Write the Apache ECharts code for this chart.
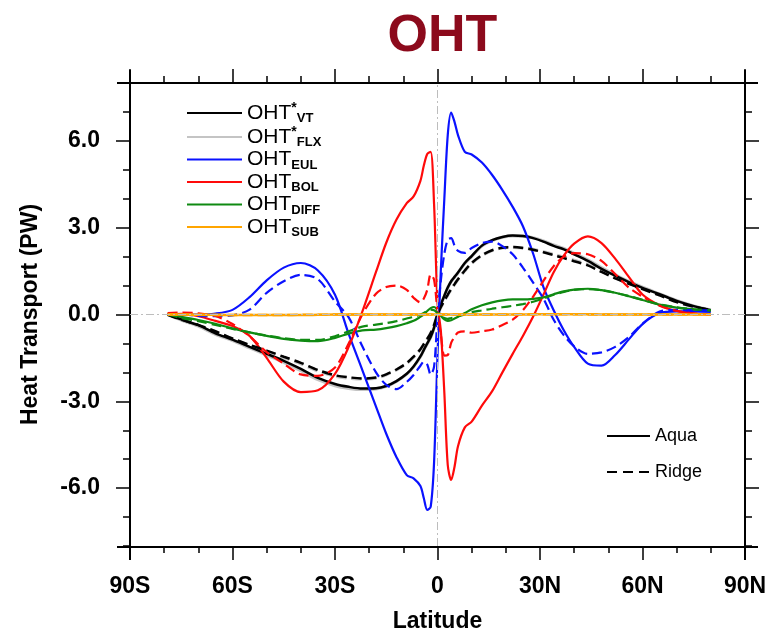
<!DOCTYPE html>
<html>
<head>
<meta charset="utf-8">
<title>OHT</title>
<script src="https://cdn.jsdelivr.net/npm/echarts@6/dist/echarts.min.js"></script>
<style>
  html, body { margin: 0; padding: 0; background: #fff; }
  #chart { width: 770px; height: 638px; }
</style>
</head>
<body>
<div id="chart"></div>
<script>
// latitude grid the curves were read at
const lat = [-79, -75, -70, -65, -60, -55, -50, -45, -40, -35,
  -30, -26, -22, -18, -15, -12, -9, -7, -5, -4,
  -3, -2, -1, 0, 1, 2, 3, 4, 5, 6,
  8, 10, 13, 16, 19, 22, 25, 28, 31, 34,
  37, 40, 44, 48, 52, 56, 60, 65, 70, 75, 80]

// Aqua (solid) runs
const vtAqua = [0, -0.17, -0.37, -0.65, -0.87, -1.12, -1.36, -1.60, -1.88, -2.19,
  -2.40, -2.50, -2.56, -2.55, -2.47, -2.30, -2.05, -1.80, -1.45, -1.22,
  -1.00, -0.78, -0.45, 0, 0.35, 0.65, 0.93, 1.15, 1.30, 1.45,
  1.78, 2.02, 2.38, 2.57, 2.68, 2.73, 2.71, 2.64, 2.52, 2.37,
  2.25, 2.08, 1.85, 1.58, 1.34, 1.12, 0.92, 0.70, 0.47, 0.29, 0.15]
const flxAqua = [0, -0.19, -0.40, -0.68, -0.90, -1.15, -1.40, -1.65, -1.94, -2.25,
  -2.46, -2.55, -2.59, -2.57, -2.48, -2.31, -2.06, -1.81, -1.46, -1.23,
  -1.01, -0.79, -0.46, 0, 0.34, 0.64, 0.92, 1.14, 1.29, 1.44,
  1.77, 2.01, 2.37, 2.56, 2.67, 2.72, 2.71, 2.65, 2.54, 2.40,
  2.28, 2.11, 1.89, 1.62, 1.37, 1.14, 0.94, 0.71, 0.48, 0.29, 0.15]
const eulAqua = [0, 0, 0, 0.03, 0.16, 0.60, 1.18, 1.62, 1.78, 1.52,
  0.68, -0.67, -1.92, -3.18, -4.12, -4.93, -5.55, -5.66, -5.93, -6.35,
  -6.75, -6.65, -5.10, -1.40, 1.60, 4.00, 6.20, 6.98, 6.65, 6.20,
  5.62, 5.53, 5.25, 4.82, 4.30, 3.72, 3.05, 2.10, 0.95, 0.15,
  -0.55, -1.12, -1.70, -1.77, -1.40, -0.86, -0.33, 0.05, 0.11, 0.11, 0.09]
const bolAqua = [0, 0.02, -0.06, -0.22, -0.40, -0.74, -1.50, -2.32, -2.68, -2.62,
  -2.05, -1.12, 0.10, 1.47, 2.48, 3.28, 3.85, 4.08, 4.62, 5.15,
  5.55, 5.62, 3.80, 0.40, -0.60, -2.70, -5.20, -5.72, -5.25, -4.55,
  -3.90, -3.70, -3.15, -2.65, -2.00, -1.36, -0.74, -0.07, 0.68, 1.46,
  2.04, 2.45, 2.70, 2.47, 1.93, 1.30, 0.69, 0.32, 0.12, 0.03, -0.01]
const diffAqua = [0, -0.08, -0.19, -0.32, -0.48, -0.62, -0.74, -0.84, -0.90, -0.92,
  -0.81, -0.66, -0.55, -0.52, -0.47, -0.40, -0.30, -0.22, -0.08, 0.00,
  0.12, 0.22, 0.26, 0.15, -0.05, -0.17, -0.22, -0.20, -0.14, -0.08,
  0.05, 0.18, 0.32, 0.42, 0.49, 0.52, 0.52, 0.54, 0.59, 0.70,
  0.80, 0.86, 0.89, 0.84, 0.75, 0.63, 0.50, 0.34, 0.24, 0.18, 0.14]
const subAqua = [0, 0, -0.01, -0.01, -0.02, -0.02, -0.02, -0.02, -0.02, -0.01,
  0, 0, 0, 0, 0, 0, 0, 0, 0, 0,
  0, 0, 0, 0, 0, 0, 0, 0, 0, 0,
  0, 0, 0, 0, 0, 0, 0, 0, 0.01, 0.01,
  0.01, 0.01, 0.01, 0, 0, 0, 0, 0, 0, 0, 0]

// Ridge (dashed) runs
const vtRidge = [0, -0.18, -0.36, -0.58, -0.83, -1.05, -1.25, -1.46, -1.67, -1.92,
  -2.10, -2.17, -2.21, -2.18, -2.07, -1.90, -1.68, -1.46, -1.20, -1.02,
  -0.84, -0.64, -0.36, 0, 0.26, 0.48, 0.68, 0.88, 1.05, 1.22,
  1.52, 1.78, 2.05, 2.22, 2.31, 2.33, 2.30, 2.24, 2.15, 2.05,
  1.95, 1.84, 1.70, 1.47, 1.25, 1.06, 0.88, 0.66, 0.43, 0.27, 0.15]
const flxRidge = [0, -0.19, -0.38, -0.60, -0.85, -1.07, -1.28, -1.49, -1.70, -1.95,
  -2.13, -2.20, -2.23, -2.20, -2.08, -1.91, -1.69, -1.47, -1.21, -1.03,
  -0.85, -0.65, -0.37, 0, 0.25, 0.47, 0.67, 0.87, 1.04, 1.21,
  1.51, 1.77, 2.04, 2.21, 2.30, 2.32, 2.30, 2.25, 2.17, 2.08,
  1.98, 1.87, 1.73, 1.50, 1.27, 1.08, 0.90, 0.67, 0.44, 0.27, 0.15]
const eulRidge = [0, 0, -0.05, -0.06, -0.03, 0.17, 0.75, 1.15, 1.37, 1.22,
  0.45, -0.10, -1.10, -2.00, -2.43, -2.58, -2.33, -2.09, -1.77, -1.63,
  -1.73, -2.08, -1.80, -0.10, 1.20, 2.10, 2.58, 2.64, 2.38, 2.20,
  2.13, 2.30, 2.47, 2.52, 2.36, 2.08, 1.62, 1.10, 0.55, -0.18,
  -0.72, -1.10, -1.36, -1.31, -1.12, -0.78, -0.32, 0.10, 0.16, 0.15, 0.14]
const bolRidge = [0.05, 0.07, 0.04, -0.05, -0.33, -0.75, -1.30, -1.70, -2.07, -2.12,
  -1.83, -1.00, 0.00, 0.72, 0.95, 1.00, 0.85, 0.58, 0.42, 0.55,
  0.85, 1.38, 1.20, 0.10, -0.70, -1.42, -1.40, -0.98, -0.77, -0.62,
  -0.58, -0.63, -0.58, -0.52, -0.36, -0.18, 0.15, 0.62, 1.16, 1.67,
  2.00, 2.12, 2.08, 1.85, 1.40, 0.93, 0.62, 0.30, 0.13, 0.04, 0.00]
const diffRidge = [0, -0.12, -0.23, -0.36, -0.50, -0.62, -0.73, -0.82, -0.88, -0.88,
  -0.75, -0.58, -0.42, -0.35, -0.30, -0.23, -0.14, -0.08, 0.00, 0.05,
  0.12, 0.17, 0.15, 0.05, -0.05, -0.12, -0.15, -0.12, -0.10, -0.06,
  0.00, 0.08, 0.14, 0.20, 0.25, 0.30, 0.36, 0.44, 0.55, 0.68,
  0.78, 0.85, 0.88, 0.84, 0.75, 0.64, 0.51, 0.35, 0.25, 0.18, 0.14]
const subRidge = [0, 0, -0.01, -0.02, -0.02, -0.02, -0.02, -0.02, -0.01, -0.01,
  0, 0, 0, 0, 0, 0, 0, 0, 0, 0,
  0, 0, 0, 0, 0, 0, 0, 0, 0, 0,
  0, 0, 0, 0, 0, 0, 0.01, 0.01, 0.01, 0.01,
  0.01, 0.01, 0, 0, 0, 0, 0, 0, 0, 0, 0]

// legend order and tick labels
const legendKeys = ['VT', 'FLX', 'EUL', 'BOL', 'DIFF', 'SUB']
const starred = ['VT', 'FLX']
const xTicks = [-90, -60, -30, 0, 30, 60, 90]
const xTickLabels = ['90S', '60S', '30S', '0', '30N', '60N', '90N']
const yTicks = [-6, -3, 0, 3, 6]
const yTickLabels = ['-6.0', '-3.0', '0.0', '3.0', '6.0']

const FONT = 'Liberation Sans'
const W = 770, H = 638
const G = { left: 130, top: 83, right: 25, bottom: 91 }
const gx0 = G.left, gx1 = W - G.right, gy0 = G.top, gy1 = H - G.bottom
const EXT = 13

const vars = [
  { key: 'FLX', color: '#c4c4c4', width: 3.2, z: 1, aqua: flxAqua, ridge: flxRidge },
  { key: 'VT', color: '#000000', width: 2.5, z: 2, aqua: vtAqua, ridge: vtRidge },
  { key: 'EUL', color: '#0a12ff', width: 2.2, z: 2, aqua: eulAqua, ridge: eulRidge },
  { key: 'BOL', color: '#ff0a0a', width: 2.2, z: 2, aqua: bolAqua, ridge: bolRidge },
  { key: 'DIFF', color: '#0f8a12', width: 2.2, z: 2, aqua: diffAqua, ridge: diffRidge },
  { key: 'SUB', color: '#ffa500', width: 2.5, z: 3, aqua: subAqua, ridge: subRidge }
]

function mkLine(name, arr, v, dashed) {
  return {
    name: name,
    type: 'line',
    data: lat.map(function (x, i) { return [x, arr[i]] }),
    xAxisIndex: 0,
    yAxisIndex: 0,
    symbol: 'none',
    smooth: 0.3,
    silent: true,
    z: v.z,
    itemStyle: { color: v.color },
    lineStyle: { color: v.color, width: v.width, type: dashed ? [10, 5] : 'solid' }
  }
}

let series = []
// zero reference lines
series.push({
  type: 'line', data: [[0, 0]], symbol: 'none', silent: true, z: 0,
  lineStyle: { opacity: 0 },
  markLine: {
    silent: true, symbol: 'none', animation: false,
    label: { show: false },
    lineStyle: { color: '#bdbdbd', width: 1, type: [8, 3, 2, 3] },
    data: [{ yAxis: 0 }, { xAxis: 0 }]
  }
})
vars.forEach(function (v) { series.push(mkLine(v.key, v.aqua, v, false)) })
vars.forEach(function (v) { series.push(mkLine(v.key, v.ridge, v, true)) })
// style-only entries for the Aqua / Ridge key
series.push({ name: 'Aqua', type: 'line', data: [], symbol: 'none', itemStyle: { color: '#000' }, lineStyle: { color: '#000', width: 2.2 } })
series.push({ name: 'Ridge', type: 'line', data: [], symbol: 'none', itemStyle: { color: '#000' }, lineStyle: { color: '#000', width: 2.2, type: [10, 6] } })

const tickStyle = { color: '#000', width: 1.5 }
const labelStyle = { fontFamily: FONT, fontWeight: 'bold', fontSize: 23, color: '#000' }

function xAxisOf(pos, withLabels) {
  return {
    type: 'value', position: pos, min: -90, max: 90, interval: 30,
    axisLine: { show: false, onZero: false },
    axisTick: { show: true, length: 14, lineStyle: tickStyle },
    minorTick: { show: true, splitNumber: 3, length: 7, lineStyle: tickStyle },
    splitLine: { show: false },
    minorSplitLine: { show: false },
    axisLabel: Object.assign({
      show: withLabels, margin: 29,
      formatter: function (v) { return xTickLabels[xTicks.indexOf(v)] }
    }, labelStyle),
    name: withLabels ? 'Latitude' : '',
    nameLocation: 'middle',
    nameGap: 64,
    nameTextStyle: labelStyle
  }
}

function yAxisOf(pos, major, withLabels) {
  let ax = {
    type: 'value', position: pos, min: -8, max: 8, interval: 1,
    axisLine: { show: false, onZero: false },
    axisTick: { show: true, length: major ? 14 : 7, lineStyle: tickStyle },
    splitLine: { show: false },
    axisLabel: { show: false }
  }
  if (major) ax.axisTick.customValues = yTicks
  if (withLabels) {
    ax.axisLabel = Object.assign({
      show: true, margin: 30, customValues: yTicks,
      formatter: function (v) { return yTickLabels[yTicks.indexOf(v)] }
    }, labelStyle)
    ax.name = 'Heat Transport (PW)'
    ax.nameLocation = 'middle'
    ax.nameGap = 88
    ax.nameTextStyle = labelStyle
  }
  return ax
}

const frame = { stroke: '#000', lineWidth: 2 }

const option = {
  animation: false,
  backgroundColor: '#fff',
  title: {
    text: 'OHT',
    left: (gx0 + gx1) / 2,
    textAlign: 'center',
    top: 6,
    textStyle: { fontFamily: FONT, fontWeight: 'bold', fontSize: 52, color: '#8c0a1c' }
  },
  grid: { left: G.left, right: G.right, top: G.top, bottom: G.bottom, containLabel: false },
  xAxis: [xAxisOf('bottom', true), xAxisOf('top', false)],
  yAxis: [yAxisOf('left', false, true), yAxisOf('left', true, false),
    yAxisOf('right', false, false), yAxisOf('right', true, false)],
  legend: [{
    data: legendKeys,
    orient: 'vertical',
    left: 186,
    top: 101,
    padding: 0,
    itemGap: 0,
    itemWidth: 55,
    itemHeight: 12,
    selectedMode: false,
    itemStyle: { opacity: 0 },
    formatter: function (name) {
      return '{m|OHT}' + (starred.indexOf(name) >= 0 ? '{p|*}' : '') + '{s|' + name + '}'
    },
    textStyle: {
      rich: {
        m: { fontFamily: FONT, fontSize: 21, color: '#000', lineHeight: 24, verticalAlign: 'middle' },
        p: { fontFamily: FONT, fontSize: 14, fontWeight: 'bold', color: '#000', verticalAlign: 'top' },
        s: { fontFamily: FONT, fontSize: 13, fontWeight: 'bold', color: '#000', verticalAlign: 'bottom' }
      }
    }
  }, {
    data: ['Aqua', 'Ridge'],
    orient: 'vertical',
    left: 606,
    top: 426,
    padding: 0,
    itemGap: 16,
    itemWidth: 43,
    itemHeight: 14,
    selectedMode: false,
    itemStyle: { opacity: 0 },
    textStyle: { fontFamily: FONT, fontSize: 18, color: '#000', lineHeight: 20 }
  }],
  graphic: [
    { type: 'line', silent: true, shape: { x1: gx0 - EXT, y1: gy0, x2: gx1 + EXT, y2: gy0 }, style: frame },
    { type: 'line', silent: true, shape: { x1: gx0 - EXT, y1: gy1, x2: gx1 + EXT, y2: gy1 }, style: frame },
    { type: 'line', silent: true, shape: { x1: gx0, y1: gy0 - EXT, x2: gx0, y2: gy1 + EXT }, style: frame },
    { type: 'line', silent: true, shape: { x1: gx1, y1: gy0 - EXT, x2: gx1, y2: gy1 + EXT }, style: frame }
  ],
  series: series
}

const chart = echarts.init(document.getElementById('chart'))
chart.setOption(option)
</script>
</body>
</html>
